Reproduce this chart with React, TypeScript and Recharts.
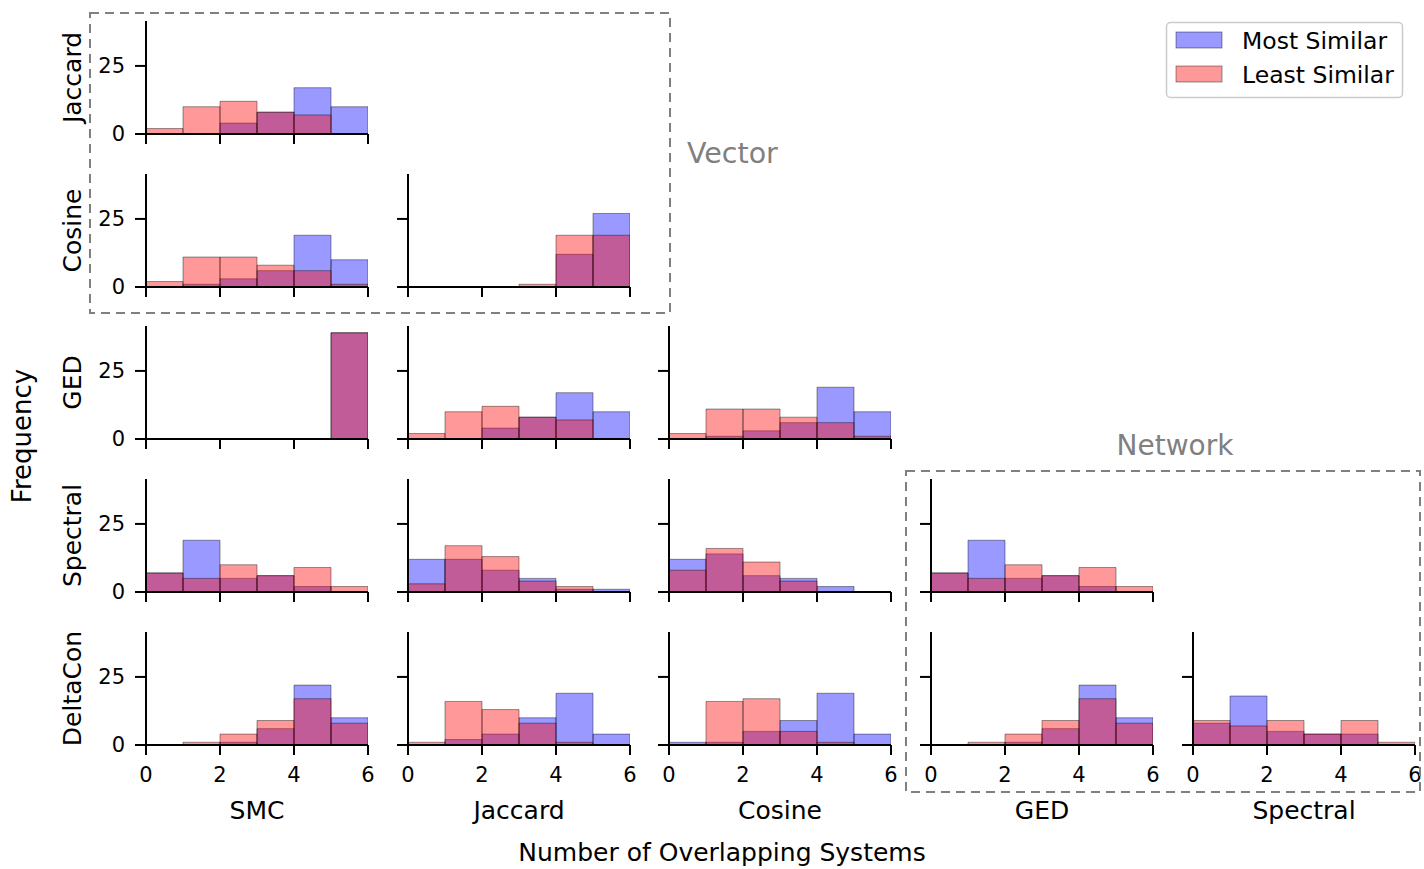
import { BarChart, Bar, XAxis, YAxis } from 'recharts';

const BINS = [0.5, 1.5, 2.5, 3.5, 4.5, 5.5];
const ROW_NAMES = ['Jaccard', 'Cosine', 'GED', 'Spectral', 'DeltaCon'];
const COL_NAMES = ['SMC', 'Jaccard', 'Cosine', 'GED', 'Spectral'];
const X_TICKS = [0, 2, 4, 6];
const Y_TICKS = [0, 25];

// counts per bin (0-1, 1-2, ... 5-6): most similar (blue) / least similar (red)
const jaccardSmcMost = [0, 0, 4, 8, 17, 10];
const jaccardSmcLeast = [2, 10, 12, 8, 7, 0];
const cosineSmcMost = [0, 1, 3, 6, 19, 10];
const cosineSmcLeast = [2, 11, 11, 8, 6, 1];
const cosineJaccardMost = [0, 0, 0, 0, 12, 27];
const cosineJaccardLeast = [0, 0, 0, 1, 19, 19];
const gedSmcMost = [0, 0, 0, 0, 0, 39];
const gedSmcLeast = [0, 0, 0, 0, 0, 39];
const gedJaccardMost = [0, 0, 4, 8, 17, 10];
const gedJaccardLeast = [2, 10, 12, 8, 7, 0];
const gedCosineMost = [0, 1, 3, 6, 19, 10];
const gedCosineLeast = [2, 11, 11, 8, 6, 1];
const spectralSmcMost = [7, 19, 5, 6, 2, 0];
const spectralSmcLeast = [7, 5, 10, 6, 9, 2];
const spectralJaccardMost = [12, 12, 8, 5, 1, 1];
const spectralJaccardLeast = [3, 17, 13, 4, 2, 0];
const spectralCosineMost = [12, 14, 6, 5, 2, 0];
const spectralCosineLeast = [8, 16, 11, 4, 0, 0];
const spectralGedMost = [7, 19, 5, 6, 2, 0];
const spectralGedLeast = [7, 5, 10, 6, 9, 2];
const deltaconSmcMost = [0, 0, 1, 6, 22, 10];
const deltaconSmcLeast = [0, 1, 4, 9, 17, 8];
const deltaconJaccardMost = [0, 2, 4, 10, 19, 4];
const deltaconJaccardLeast = [1, 16, 13, 8, 1, 0];
const deltaconCosineMost = [1, 1, 5, 9, 19, 4];
const deltaconCosineLeast = [0, 16, 17, 5, 1, 0];
const deltaconGedMost = [0, 0, 1, 6, 22, 10];
const deltaconGedLeast = [0, 1, 4, 9, 17, 8];
const deltaconSpectralMost = [8, 18, 5, 4, 4, 0];
const deltaconSpectralLeast = [9, 7, 9, 4, 9, 1];

const CELLS: [number, number, number[], number[]][] = [
  [0, 0, jaccardSmcMost, jaccardSmcLeast],
  [1, 0, cosineSmcMost, cosineSmcLeast],
  [1, 1, cosineJaccardMost, cosineJaccardLeast],
  [2, 0, gedSmcMost, gedSmcLeast],
  [2, 1, gedJaccardMost, gedJaccardLeast],
  [2, 2, gedCosineMost, gedCosineLeast],
  [3, 0, spectralSmcMost, spectralSmcLeast],
  [3, 1, spectralJaccardMost, spectralJaccardLeast],
  [3, 2, spectralCosineMost, spectralCosineLeast],
  [3, 3, spectralGedMost, spectralGedLeast],
  [4, 0, deltaconSmcMost, deltaconSmcLeast],
  [4, 1, deltaconJaccardMost, deltaconJaccardLeast],
  [4, 2, deltaconCosineMost, deltaconCosineLeast],
  [4, 3, deltaconGedMost, deltaconGedLeast],
  [4, 4, deltaconSpectralMost, deltaconSpectralLeast],
];

// layout (page px)
const COL_X = [146, 408, 669, 931, 1193];
const ROW_ZERO = [134, 287, 439, 592, 745];
const PW = 222;
const PH = 113;
const YW = 60;
const TOP = 10;
const RIGHT = 10;
const XH = 45;
const FONT = 'DejaVu Sans';
const GRAY = '#808080';

const tickStyle = { fill: '#000', fontSize: 21, fontFamily: FONT };
const axisLine = { stroke: '#000', strokeWidth: 2 };
const noLabel = () => <g />;

function Cell({ row, col, most, least }: { row: number; col: number; most: number[]; least: number[] }) {
  const data = BINS.map((x, i) => ({ x, most: most[i], least: least[i] }));
  const bottom = row === 4;
  return (
    <div style={{ position: 'absolute', left: COL_X[col] - YW, top: ROW_ZERO[row] - PH - TOP }}>
      <BarChart
        width={YW + PW + RIGHT}
        height={TOP + PH + XH}
        data={data}
        margin={{ top: TOP, right: RIGHT, left: 0, bottom: 0 }}
        barCategoryGap={0}
        barGap={0}
      >
        <XAxis
          xAxisId="most"
          type="number"
          dataKey="x"
          domain={[0, 6]}
          ticks={X_TICKS}
          interval={0}
          allowDataOverflow
          height={XH}
          tickSize={10}
          tickMargin={12}
          axisLine={axisLine}
          tickLine={axisLine}
          tick={bottom ? tickStyle : noLabel}
        />
        <XAxis xAxisId="least" type="number" dataKey="x" domain={[0, 6]} allowDataOverflow hide height={0} />
        <YAxis
          type="number"
          domain={[0, 41.5]}
          ticks={Y_TICKS}
          interval={0}
          allowDataOverflow
          width={YW}
          tickSize={11}
          tickMargin={10}
          axisLine={axisLine}
          tickLine={axisLine}
          tick={col === 0 ? tickStyle : noLabel}
        />
        <Bar xAxisId="most" dataKey="most" fill="#0000ff" fillOpacity={0.4} stroke="#000" strokeOpacity={0.4} strokeWidth={1} isAnimationActive={false} />
        <Bar xAxisId="least" dataKey="least" fill="#ff0000" fillOpacity={0.4} stroke="#000" strokeOpacity={0.4} strokeWidth={1} isAnimationActive={false} />
      </BarChart>
    </div>
  );
}

export default function App() {
  return (
    <div style={{ position: 'absolute', left: 0, top: 0, width: 1424, height: 869, background: '#fff', overflow: 'hidden' }}>
      {CELLS.map(([r, c, m, l]) => (
        <Cell key={`${r}-${c}`} row={r} col={c} most={m} least={l} />
      ))}
      <svg width={1424} height={869} style={{ position: 'absolute', left: 0, top: 0, pointerEvents: 'none' }} fontFamily={FONT}>
        {ROW_NAMES.map((name, r) => {
          const cy = ROW_ZERO[r] - PH / 2;
          return (
            <text key={name + r} x={81} y={cy} fontSize={25} textAnchor="middle" transform={`rotate(-90 81 ${cy})`}>
              {name}
            </text>
          );
        })}
        {COL_NAMES.map((name, c) => (
          <text key={name + c} x={COL_X[c] + PW / 2} y={819} fontSize={25} textAnchor="middle">
            {name}
          </text>
        ))}
        <text x={31} y={436} fontSize={26} textAnchor="middle" transform="rotate(-90 31 436)">
          Frequency
        </text>
        <text x={722} y={861} fontSize={25} textAnchor="middle">
          Number of Overlapping Systems
        </text>
        <rect x={90} y={13} width={580} height={300} fill="none" stroke={GRAY} strokeWidth={2} strokeDasharray="9 6" />
        <rect x={906} y={471} width={514} height={321} fill="none" stroke={GRAY} strokeWidth={2} strokeDasharray="9 6" />
        <text x={687} y={163} fontSize={28.5} fill={GRAY}>Vector</text>
        <text x={1175} y={455} fontSize={28} fill={GRAY} textAnchor="middle">Network</text>
        <rect x={1166.5} y={22.5} width={236} height={75} rx={4} fill="#fff" fillOpacity={0.8} stroke="#ccc" strokeWidth={1.5} />
        <rect x={1176} y={32} width={46} height={16} fill="#0000ff" fillOpacity={0.4} stroke="#000" strokeOpacity={0.4} />
        <text x={1242} y={49} fontSize={23.5}>Most Similar</text>
        <rect x={1176} y={66} width={46} height={16} fill="#ff0000" fillOpacity={0.4} stroke="#000" strokeOpacity={0.4} />
        <text x={1242} y={83} fontSize={23.5}>Least Similar</text>
      </svg>
    </div>
  );
}
